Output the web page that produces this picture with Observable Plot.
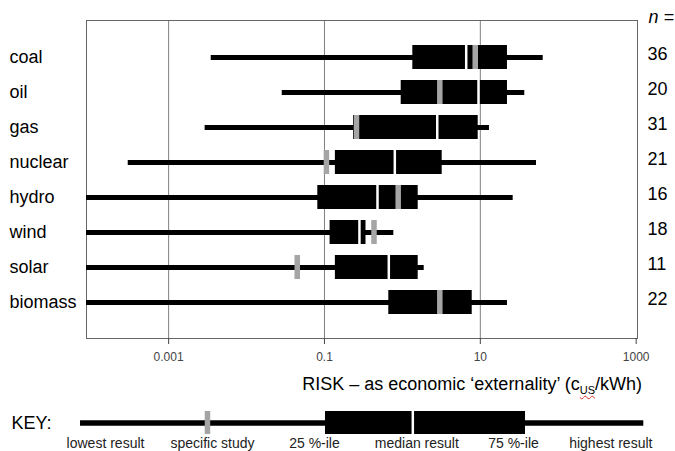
<!DOCTYPE html>
<html>
<head>
<meta charset="utf-8">
<script src="https://cdn.jsdelivr.net/npm/d3@7"></script>
<script src="https://cdn.jsdelivr.net/npm/@observablehq/plot@0.6"></script>
<style>
  body { margin: 0; background: #fff; font-family: "Liberation Sans", Arial, sans-serif; }
  #wrap { position: relative; width: 675px; height: 451px; overflow: hidden; background: #fff; }
  #wrap svg { position: absolute; left: 0; }
  #title { position: absolute; right: 33px; top: 374px; font-size: 18px; line-height: 20px; white-space: nowrap; color: #000; }
  #title sub { font-size: 11px; vertical-align: -4px; line-height: 0; text-decoration: underline wavy #e03030; text-decoration-thickness: 1px; }
</style>
</head>
<body>
<div id="wrap"></div>
<script>
// ---- data (cUS/kWh) ----
const categories    = ["coal", "oil", "gas", "nuclear", "hydro", "wind", "solar", "biomass"];
const nStudies      = [36, 20, 31, 21, 16, 18, 11, 22];
const lowest        = [0.00352, 0.0287, 0.00294, 0.000303, 0.00001, 0.00001, 0.00001, 0.00001];
const q25           = [1.36, 0.965, 0.236, 0.138, 0.0821, 0.118, 0.138, 0.669];
const median        = [6.59, 9.48, 2.80, 0.799, 0.479, 0.281, 0.669, 3.02];
const q75           = [22.3, 22.3, 9.39, 3.24, 1.595, 0.341, 1.595, 7.87];
const highest       = [64.1, 37.2, 13.1, 52.6, 26.4, 0.776, 1.905, 22.3];
const specificStudy = [8.6, 3.02, 0.2575, 0.106, 0.883, 0.432, 0.0447, 3.02];

const tickValues = [0.001, 0.1, 10, 1000];
const tickLabels = ["0.001", "0.1", "10", "1000"];
const gridValues = [0.001, 0.1, 10];

// key (illustrative example on the same scale)
const keyLabels = ["lowest result", "specific study", "25 %-ile", "median result", "75 %-ile", "highest result"];
const keyValues = [7.4e-5, 0.00315, 0.103, 1.36, 38, 1253];

// ---- styling ----
const FONT = "'Liberation Sans', Arial, sans-serif";
const xDomain = [Math.pow(10, -4.054), Math.pow(10, 3.017)];
const keyLabelDx = [25, 5, -11, 4, -12, -33];

const rows = categories.map((c, i) => ({
  cat: c, n: nStudies[i], lo: lowest[i], q1: q25[i], med: median[i], q3: q75[i], hi: highest[i], study: specificStudy[i]
}));

const wrap = document.getElementById("wrap");

const main = Plot.plot({
  width: 675, height: 368,
  marginTop: 20, marginBottom: 30, marginLeft: 86, marginRight: 38,
  style: { fontFamily: FONT, background: "transparent", overflow: "visible" },
  x: { type: "log", domain: xDomain },
  y: { domain: categories, paddingInner: 0.32, paddingOuter: 0.66, axis: null },
  marks: [
    Plot.ruleX(gridValues, { stroke: "#808080", strokeWidth: 1 }),
    Plot.frame({ stroke: "#666", strokeWidth: 1 }),
    Plot.axisX({
      ticks: tickValues,
      tickFormat: d => tickLabels[tickValues.indexOf(d)],
      tickSize: 6, tickPadding: 8, fontSize: 12, color: "#444", label: null
    }),
    Plot.ruleY(rows, { y: "cat", x1: "lo", x2: "hi", stroke: "black", strokeWidth: 5, clip: true }),
    Plot.barX(rows, { y: "cat", x1: "q1", x2: "q3", fill: "black" }),
    Plot.tickX(rows, { y: "cat", x: "med", stroke: "white", strokeWidth: 2.5 }),
    Plot.tickX(rows, { y: "cat", x: "study", stroke: "#a5a5a5", strokeWidth: 5.5 }),
    Plot.text(rows, { y: "cat", text: "cat", frameAnchor: "left", textAnchor: "start", dx: -77, fontSize: 18, fill: "black" }),
    Plot.text(rows, { y: "cat", text: d => String(d.n), frameAnchor: "right", textAnchor: "start", dx: 10, dy: -3, fontSize: 18, fill: "black" }),
    Plot.text(["n ="], { text: d => d, frameAnchor: "top-right", lineAnchor: "middle", textAnchor: "start", dx: 11, dy: -3, fontSize: 18, fontStyle: "italic", fill: "black" })
  ]
});
main.style.top = "0px";
wrap.appendChild(main);

const keyRow = [{
  row: "key", lo: keyValues[0], study: keyValues[1], q1: keyValues[2], med: keyValues[3], q3: keyValues[4], hi: keyValues[5]
}];
const keyTexts = keyLabels.map((t, i) => Plot.text([t], {
  x: () => keyValues[i], text: d => d, frameAnchor: "bottom", lineAnchor: "top",
  textAnchor: "middle", dx: keyLabelDx[i], dy: 4, fontSize: 14, fill: "#222"
}));

const key = Plot.plot({
  width: 675, height: 56,
  marginTop: 16, marginBottom: 17, marginLeft: 86, marginRight: 38,
  style: { fontFamily: FONT, background: "transparent", overflow: "visible" },
  x: { type: "log", domain: xDomain, axis: null },
  y: { domain: ["key"], paddingInner: 0, paddingOuter: 0, axis: null },
  marks: [
    Plot.ruleY(keyRow, { y: "row", x1: "lo", x2: "hi", stroke: "black", strokeWidth: 5.5 }),
    Plot.barX(keyRow, { y: "row", x1: "q1", x2: "q3", fill: "black" }),
    Plot.tickX(keyRow, { y: "row", x: "med", stroke: "white", strokeWidth: 2.5 }),
    Plot.tickX(keyRow, { y: "row", x: "study", stroke: "#a5a5a5", strokeWidth: 5.5 }),
    Plot.text(["KEY:"], { y: () => "key", text: d => d, frameAnchor: "left", textAnchor: "start", dx: -75, fontSize: 18, fill: "black" }),
    ...keyTexts
  ]
});
key.style.top = "395px";
wrap.appendChild(key);

const title = document.createElement("div");
title.id = "title";
title.innerHTML = "RISK \u2013 as economic \u2018externality\u2019 (c<sub>US</sub>/kWh)";
wrap.appendChild(title);
</script>
</body>
</html>
